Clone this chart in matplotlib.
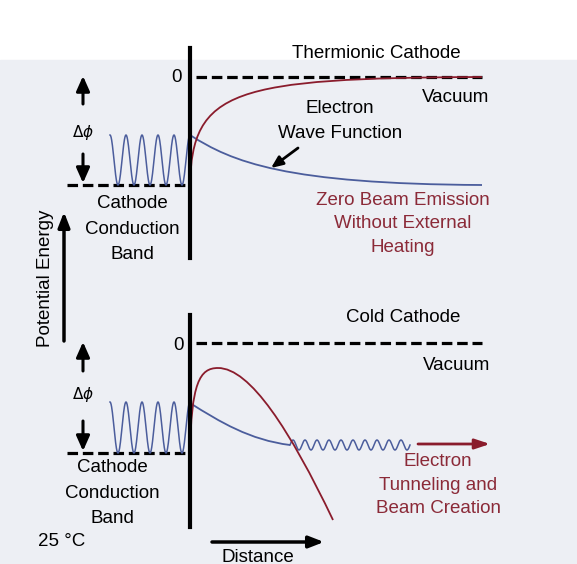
import numpy as np
import matplotlib
matplotlib.use('Agg')
import matplotlib.pyplot as plt
from matplotlib.path import Path
from matplotlib.patches import PathPatch, Rectangle

plt.rcParams['font.family'] = ['Liberation Sans', 'DejaVu Sans']

# ===================== 数据（图上读取的像素坐标） =====================
RED = '#8a1c2c'
BLUE = '#4b5d9c'
TXT_RED = '#8b2a38'

# 上图：热阴极
top_zero_y = 77
top_band_y = 185
top_wave_top = 135
top_barrier = [(190, 185), (192, 90), (232, 78), (482, 77)]        # 红色势垒（Bezier 控制点）
top_psi = [(190, 135), (232, 162), (285, 184), (482, 185)]         # 蓝色衰减波函数

# 下图：冷阴极
bot_zero_y = 343
bot_band_y = 453
bot_wave_top = 402
bot_barrier_a = [(190, 455), (191, 382), (200, 368), (218, 368)]
bot_barrier_b = [(218, 368), (250, 368), (290, 430), (333, 520)]
bot_psi = [(190, 403), (220, 422), (250, 440), (290, 445)]

wave_x = (110, 190)     # 阴极内振荡区间
wave_cycles = 5
tunnel_x = (290, 410)   # 隧穿波区间
tunnel_cycles = 10
tunnel_amp = 5

# ===================== 画布 =====================
fig = plt.figure(figsize=(5.77, 5.64), dpi=100)
ax = fig.add_axes([0, 0, 1, 1])
ax.set_xlim(0, 577)
ax.set_ylim(564, 0)
ax.axis('off')
ax.add_patch(Rectangle((0, 60), 577, 504, color='#edeff4', zorder=0))


def bezier(pts, color, lw=1.3):
    codes = [Path.MOVETO] + [Path.CURVE4] * (len(pts) - 1)
    ax.add_patch(PathPatch(Path(pts, codes), fc='none', ec=color, lw=lw, zorder=3))


def dashed(x0, x1, y):
    ax.plot([x0, x1], [y, y], color='black', lw=2.3, dashes=(3.3, 1.5), zorder=2)


def cathode_wave(top, bottom):
    xs = np.linspace(wave_x[0], wave_x[1], 300)
    mid = (top + bottom) / 2
    amp = (bottom - top) / 2
    ax.plot(xs, mid - amp * np.cos(2 * np.pi * wave_cycles * (xs - wave_x[0]) / (wave_x[1] - wave_x[0])),
            color=BLUE, lw=1.1, zorder=3)


def arrow(x0, y0, x1, y1, color='black', lw=2.2, hw=0.4, hl=0.9):
    ax.annotate('', xy=(x1, y1), xytext=(x0, y0),
                arrowprops=dict(arrowstyle=f'-|>,head_width={hw},head_length={hl}',
                                color=color, lw=lw, shrinkA=0, shrinkB=0), zorder=4)


fs = 13.5

# ===================== 上图 =====================
ax.plot([190, 190], [48, 258], color='black', lw=3, zorder=4)
dashed(196, 482, top_zero_y)
dashed(67, 187, top_band_y)
cathode_wave(top_wave_top, top_band_y)
bezier(top_psi, BLUE)
bezier(top_barrier, RED)
ax.text(176, top_zero_y, '0', fontsize=fs, ha='center', va='center')
ax.text(376, 53, 'Thermionic Cathode', fontsize=fs, ha='center', va='center')
ax.text(456, 98, 'Vacuum', fontsize=fs, ha='center', va='center')
ax.text(340, 121, 'Electron\nWave Function', fontsize=fs, ha='center', va='center', linespacing=1.55)
arrow(298, 148, 271, 168, lw=2, hw=0.3, hl=0.7)
ax.text(403, 224, 'Zero Beam Emission\nWithout External\nHeating', fontsize=fs, color=TXT_RED,
        ha='center', va='center', linespacing=1.48)
ax.text(132, 229, 'Cathode\nConduction\nBand', fontsize=fs, ha='center', va='center', linespacing=1.62)
ax.text(83, 133, r'$\Delta\phi$', fontsize=11, ha='center', va='center')
arrow(83, 104, 83, 76)
arrow(83, 154, 83, 183)

# ===================== 下图 =====================
ax.plot([190, 190], [315, 527], color='black', lw=3, zorder=4)
dashed(196, 482, bot_zero_y)
dashed(67, 187, bot_band_y)
cathode_wave(bot_wave_top, bot_band_y)
bezier(bot_psi, BLUE)
tx = np.linspace(tunnel_x[0], tunnel_x[1], 400)
ax.plot(tx, 445 - tunnel_amp * np.sin(2 * np.pi * tunnel_cycles * (tx - tunnel_x[0]) / (tunnel_x[1] - tunnel_x[0])),
        color=BLUE, lw=1.1, zorder=3)
bezier(bot_barrier_a, RED)
bezier(bot_barrier_b, RED)
ax.text(178, bot_zero_y + 2, '0', fontsize=fs, ha='center', va='center')
ax.text(403, 318, 'Cold Cathode', fontsize=fs, ha='center', va='center')
ax.text(457, 365, 'Vacuum', fontsize=fs, ha='center', va='center')
arrow(418, 444, 490, 444, color=RED, lw=2, hw=0.3, hl=0.9)
ax.text(438, 485, 'Electron\nTunneling and\nBeam Creation', fontsize=fs, color=TXT_RED,
        ha='center', va='center', linespacing=1.48)
ax.text(112, 493, 'Cathode\nConduction\nBand', fontsize=fs, ha='center', va='center', linespacing=1.62)
ax.text(83, 394, r'$\Delta\phi$', fontsize=11, ha='center', va='center')
arrow(83, 371, 83, 342)
arrow(83, 421, 83, 451)
ax.text(62, 542, '25 °C', fontsize=fs, ha='center', va='center')

# 坐标轴示意
arrow(212, 542, 324, 542, lw=2.5, hw=0.35, hl=0.9)
ax.text(258, 557, 'Distance', fontsize=fs, ha='center', va='center')
arrow(64, 341, 64, 212, lw=2.5, hw=0.35, hl=0.9)
ax.text(45, 278, 'Potential Energy', fontsize=fs, rotation=90, ha='center', va='center')

fig.savefig('out.png', dpi=100)
